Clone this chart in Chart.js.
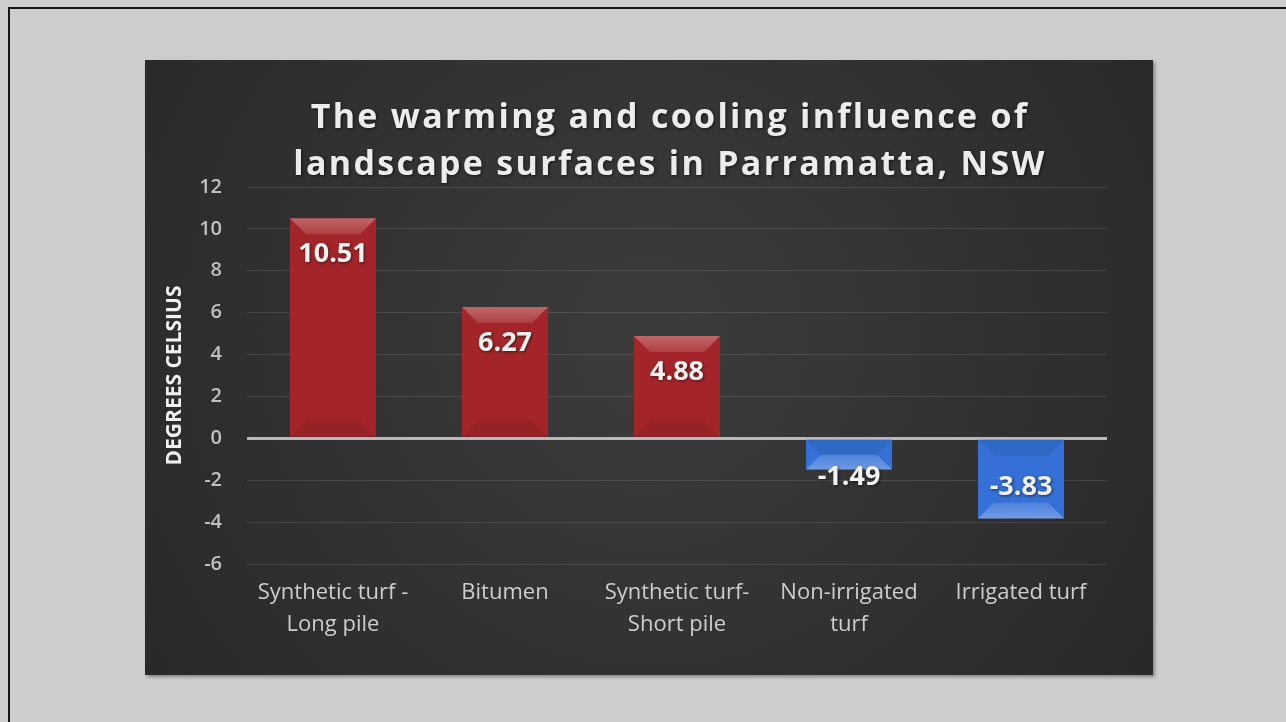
<!DOCTYPE html>
<html>
<head>
<meta charset="utf-8">
<script src="https://cdn.jsdelivr.net/npm/chart.js@4/dist/chart.umd.min.js"></script>
<style>
  html, body { margin: 0; padding: 0; background: #cdcdcd; width: 1286px; height: 722px; overflow: hidden; }
  .marco { position: absolute; left: 8px; top: 7px; width: 1300px; height: 730px;
           border-left: 2px solid #151515; border-top: 2px solid #151515; }
  .panel { position: absolute; left: 145px; top: 60px; width: 1008px; height: 615px;
           box-shadow: 2px 2px 3px rgba(0,0,0,0.35); }
</style>
</head>
<body>
<div class="marco"></div>
<div class="panel"><canvas id="graficoSuperficies" width="1008" height="615"></canvas></div>
<script>
// Datos: influencia de cada superficie (grados Celsius)
const categorias = [
  ['Synthetic turf -', 'Long pile'],
  'Bitumen',
  ['Synthetic turf-', 'Short pile'],
  ['Non-irrigated', 'turf'],
  'Irrigated turf'
];
const valores = [10.51, 6.27, 4.88, -1.49, -3.83];
const titulo = ['The warming and cooling influence of', 'landscape surfaces in Parramatta, NSW'];
const tituloEje = 'DEGREES CELSIUS';
const ejeY = { min: -6, max: 12, paso: 2 };

const FUENTE = "'Open Sans', 'DejaVu Sans', sans-serif";

// Fondo oscuro del panel y título centrado
const fondoPanel = {
  id: 'fondoPanel',
  beforeDraw(chart) {
    const { ctx, width, height } = chart;
    ctx.save();
    const g = ctx.createRadialGradient(width * 0.5, height * 0.45, 40, width * 0.5, height * 0.45, width * 0.62);
    g.addColorStop(0, '#3b3b3b');
    g.addColorStop(1, '#282828');
    ctx.fillStyle = g;
    ctx.fillRect(0, 0, width, height);
    ctx.restore();
  },
  afterDraw(chart) {
    const { ctx } = chart;
    ctx.save();
    ctx.fillStyle = '#ececec';
    ctx.font = "bold 34px " + FUENTE;
    ctx.letterSpacing = '2.3px';
    ctx.textAlign = 'center';
    ctx.textBaseline = 'alphabetic';
    ctx.shadowColor = 'rgba(0,0,0,0.6)';
    ctx.shadowBlur = 3;
    ctx.shadowOffsetX = 1;
    ctx.shadowOffsetY = 1;
    ctx.fillText(titulo[0], 525, 68);
    ctx.fillText(titulo[1], 525, 115);
    ctx.restore();
  }
};

// Relieve de las barras y etiquetas de valor
const relieveYEtiquetas = {
  id: 'relieveYEtiquetas',
  afterDatasetsDraw(chart) {
    const { ctx } = chart;
    const meta = chart.getDatasetMeta(0);
    ctx.save();
    meta.data.forEach((barra, i) => {
      const v = valores[i];
      const mitad = barra.width / 2;
      const izq = barra.x - mitad, der = barra.x + mitad;
      const fin = barra.y, base = barra.base;
      const largo = Math.abs(base - fin);
      const bisel = Math.min(16, largo / 2);
      const s = v >= 0 ? 1 : -1;
      // bisel del extremo (más claro)
      const gb = ctx.createLinearGradient(0, fin, 0, fin + s * bisel);
      gb.addColorStop(0, 'rgba(255,255,255,0.30)');
      gb.addColorStop(1, 'rgba(255,255,255,0.12)');
      ctx.fillStyle = gb;
      ctx.beginPath();
      ctx.moveTo(izq, fin);
      ctx.lineTo(der, fin);
      ctx.lineTo(der - bisel, fin + s * bisel);
      ctx.lineTo(izq + bisel, fin + s * bisel);
      ctx.closePath();
      ctx.fill();
      // bisel del lado base (apenas más oscuro)
      ctx.fillStyle = 'rgba(0,0,0,0.07)';
      ctx.beginPath();
      ctx.moveTo(izq, base);
      ctx.lineTo(der, base);
      ctx.lineTo(der - bisel, base - s * bisel);
      ctx.lineTo(izq + bisel, base - s * bisel);
      ctx.closePath();
      ctx.fill();

      // etiqueta
      let y;
      if (largo < 45) y = fin + s * -8;
      else y = v >= 0 ? fin + 36 : fin - 31;
      ctx.font = "bold 27px " + FUENTE;
      ctx.textAlign = 'center';
      ctx.textBaseline = 'middle';
      ctx.shadowColor = 'rgba(0,0,0,0.55)';
      ctx.shadowBlur = 3;
      ctx.shadowOffsetX = 1;
      ctx.shadowOffsetY = 1;
      ctx.fillStyle = '#f2f2f2';
      ctx.fillText(v.toFixed(2), barra.x, y);
      ctx.shadowColor = 'transparent';
    });
    ctx.restore();
  }
};

function colorBarra(context) {
  const chart = context.chart;
  const v = valores[context.dataIndex];
  const el = chart.getDatasetMeta(0).data[context.dataIndex];
  if (!chart.chartArea || !el || !isFinite(el.x)) return v >= 0 ? '#a32529' : '#3470d6';
  const izq = el.x - el.width / 2, der = el.x + el.width / 2;
  const g = chart.ctx.createLinearGradient(izq, 0, der, 0);
  if (v >= 0) {
    g.addColorStop(0, '#861c20');
    g.addColorStop(0.1, '#a32529');
    g.addColorStop(0.9, '#a32529');
    g.addColorStop(1, '#7f1a1e');
  } else {
    g.addColorStop(0, '#2559b5');
    g.addColorStop(0.1, '#3470d6');
    g.addColorStop(0.9, '#3470d6');
    g.addColorStop(1, '#2354ab');
  }
  return g;
}

new Chart(document.getElementById('graficoSuperficies'), {
  type: 'bar',
  data: {
    labels: categorias,
    datasets: [{
      data: valores,
      backgroundColor: colorBarra,
      borderWidth: 0,
      categoryPercentage: 1,
      barPercentage: 0.5
    }]
  },
  options: {
    responsive: false,
    devicePixelRatio: 1,
    animation: false,
    layout: { padding: { top: 127, right: 46, left: 0, bottom: 0 } },
    plugins: { legend: { display: false }, tooltip: { enabled: false }, title: { display: false } },
    scales: {
      x: {
        grid: { display: false, drawTicks: false },
        border: { display: false },
        ticks: { color: '#cdcdcd', padding: 13, font: { family: FUENTE, size: 22, lineHeight: 1.45 } },
        afterFit(scale) { scale.height = 111; }
      },
      y: {
        min: ejeY.min,
        max: ejeY.max,
        border: { display: false },
        grid: {
          drawTicks: false,
          color: ctx => ctx.tick && ctx.tick.value === 0 ? '#b8b8b8' : 'rgba(255,255,255,0.11)',
          lineWidth: ctx => ctx.tick && ctx.tick.value === 0 ? 3 : 1
        },
        ticks: { stepSize: ejeY.paso, color: '#c0c0c0', padding: 25, font: { family: FUENTE, size: 20, weight: '600' } },
        title: {
          display: true,
          text: tituloEje,
          color: '#f0f0f0',
          padding: { top: 17, bottom: 0 },
          font: { family: FUENTE, size: 21, weight: 'bold' }
        },
        afterFit(scale) { scale.width = 102; }
      }
    }
  },
  plugins: [fondoPanel, relieveYEtiquetas]
});
</script>
</body>
</html>
